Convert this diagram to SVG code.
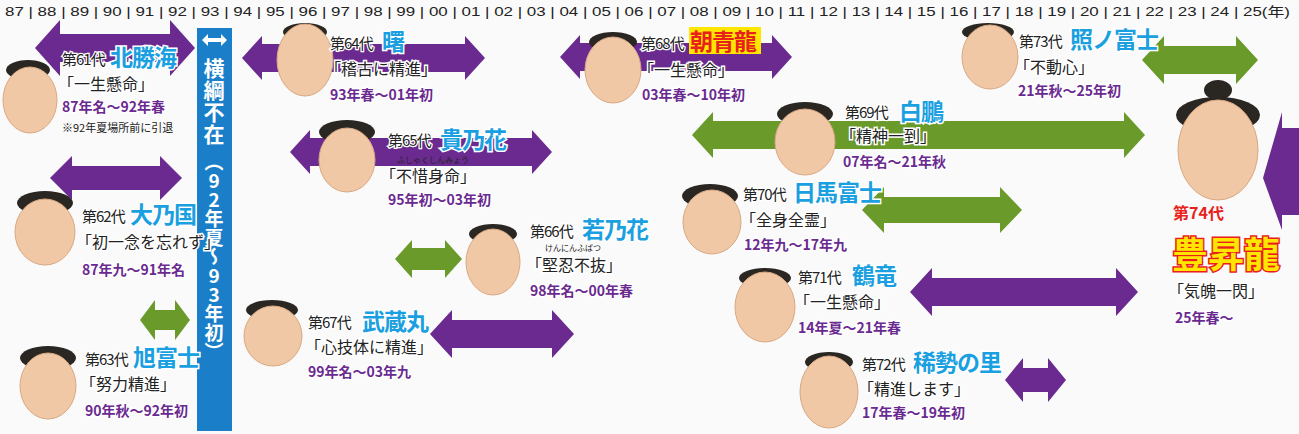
<svg xmlns="http://www.w3.org/2000/svg" width="1299" height="434" viewBox="0 0 1299 434">
<style>
text{font-family:"Noto Sans CJK JP","Liberation Sans",sans-serif;}
.ax{font-size:13px;fill:#222;font-family:"Liberation Sans","Noto Sans CJK JP",sans-serif}
.gen{font-size:15px;fill:#222;letter-spacing:-1px;stroke:#fff;stroke-width:2.5;paint-order:stroke}
.nm{font-size:23px;font-weight:bold;fill:#1aa0e0;stroke:#fff;stroke-width:3;paint-order:stroke;letter-spacing:-1px}
.q{font-size:16px;fill:#222;stroke:#fff;stroke-width:3;paint-order:stroke}
.dt{font-size:14px;font-weight:bold;fill:#6a2a90;stroke:#fff;stroke-width:2.5;paint-order:stroke}
.ru{font-size:8px;fill:#222}
.pu{fill:#6a2a90}
.gr{fill:#6a9a2a}
.skin{fill:#f0c8a6;stroke:#d9a882;stroke-width:1}
.hair{fill:#2a2622}
</style>
<rect width="1299" height="434" fill="#fafafa"/>
<text class="ax" x="5" y="16" textLength="1285" lengthAdjust="spacingAndGlyphs">87 | 88 | 89 | 90 | 91 | 92 | 93 | 94 | 95 | 96 | 97 | 98 | 99 | 00 | 01 | 02 | 03 | 04 | 05 | 06 | 07 | 08 | 09 | 10 | 11 | 12 | 13 | 14 | 15 | 16 | 17 | 18 | 19 | 20 | 21 | 22 | 23 | 24 | 25(年)</text>
<g id="connectors">
<path class="pu" d="M35,48 L60,20 L60,34 L170,34 L170,20 L195,48 L170,76 L170,62 L60,62 L60,76 Z"/>
<path class="pu" d="M50,178 L72,156 L72,166 L160,166 L160,156 L182,178 L160,200 L160,190 L72,190 L72,200 Z"/>
<path class="gr" d="M140,320 L155,300 L155,310 L175,310 L175,300 L190,320 L175,340 L175,330 L155,330 L155,340 Z"/>
<path class="pu" d="M242,58 L262,36 L262,44 L465,44 L465,36 L485,58 L465,80 L465,72 L262,72 L262,80 Z"/>
<path class="pu" d="M290,152 L310,130 L310,138 L532,138 L532,130 L552,152 L532,174 L532,166 L310,166 L310,174 Z"/>
<path class="gr" d="M395,259 L412,240 L412,248 L445,248 L445,240 L462,259 L445,278 L445,270 L412,270 L412,278 Z"/>
<path class="pu" d="M430,334 L452,310 L452,320 L552,320 L552,310 L574,334 L552,358 L552,348 L452,348 L452,358 Z"/>
<path class="pu" d="M560,57 L580,35 L580,43 L772,43 L772,35 L792,57 L772,79 L772,71 L580,71 L580,79 Z"/>
<path class="gr" d="M692,135 L713,112 L713,121 L1124,121 L1124,112 L1145,135 L1124,158 L1124,149 L713,149 L713,158 Z"/>
<path class="gr" d="M862,210 L884,187 L884,197 L1000,197 L1000,187 L1022,210 L1000,233 L1000,223 L884,223 L884,233 Z"/>
<path class="pu" d="M910,292 L932,268 L932,278 L1116,278 L1116,268 L1138,292 L1116,316 L1116,306 L932,306 L932,316 Z"/>
<path class="pu" d="M1005,380 L1023,358 L1023,368 L1048,368 L1048,358 L1066,380 L1048,402 L1048,392 L1023,392 L1023,402 Z"/>
<path class="gr" d="M1142,60 L1164,36 L1164,46 L1236,46 L1236,36 L1258,60 L1236,84 L1236,74 L1164,74 L1164,84 Z"/>
<path class="pu" d="M1263,178 L1282,112 L1282,128 L1299,128 L1299,215 L1282,215 L1282,230 Z"/>
</g>
<g id="absent">
<rect x="197" y="28" width="35" height="403" fill="#1a7fc8"/>
<path d="M202,40 L208,34 L208,38 L221,38 L221,34 L227,40 L221,46 L221,42 L208,42 L208,46 Z" fill="#fff"/>
<text x="214" y="58" font-size="21" font-weight="bold" fill="#fff" style="writing-mode:vertical-rl;text-orientation:upright" letter-spacing="1">横綱不在</text>
<text x="214" y="152" font-size="19" font-weight="bold" fill="#fff" style="writing-mode:vertical-rl;text-orientation:upright">（92年夏～93年初）</text>
</g>
<g id="n61"><ellipse class="hair" cx="28" cy="70" rx="22" ry="10"/><ellipse class="skin" cx="30" cy="100" rx="27" ry="33"/>
<text class="gen" x="62" y="65">第61代</text><text class="nm" x="110" y="66">北勝海</text>
<text class="q" x="58" y="90">「一生懸命」</text><text class="dt" x="62" y="112">87年名～92年春</text>
<text x="62" y="132" font-size="11" fill="#222">※92年夏場所前に引退</text></g>
<g id="n62"><ellipse class="hair" cx="45" cy="203" rx="28" ry="12"/><ellipse class="skin" cx="45" cy="232" rx="30" ry="33"/>
<text class="gen" x="82" y="222">第62代</text><text class="nm" x="130" y="223">大乃国</text>
<text class="q" x="76" y="248">「初一念を忘れず」</text><text class="dt" x="82" y="275">87年九～91年名</text></g>
<g id="n63"><ellipse class="hair" cx="48" cy="358" rx="28" ry="12"/><ellipse class="skin" cx="48" cy="386" rx="28" ry="33"/>
<text class="gen" x="85" y="365">第63代</text><text class="nm" x="133" y="366">旭富士</text>
<text class="q" x="80" y="390">「努力精進」</text><text class="dt" x="85" y="416">90年秋～92年初</text></g>
<g id="n64"><ellipse class="hair" cx="305" cy="32" rx="22" ry="9"/><ellipse class="skin" cx="305" cy="60" rx="28" ry="36"/>
<text class="gen" x="330" y="49">第64代</text><text class="nm" x="382" y="50">曙</text>
<text class="q" x="325" y="75">「稽古に精進」</text><text class="dt" x="330" y="100">93年春～01年初</text></g>
<g id="n65"><ellipse class="hair" cx="347" cy="132" rx="28" ry="12"/><ellipse class="skin" cx="347" cy="160" rx="28" ry="32"/>
<text class="gen" x="388" y="146">第65代</text><text class="nm" x="440" y="148" font-size="25">貴乃花</text>
<text class="ru" x="397" y="163">ふしゃくしんみょう</text>
<text class="q" x="380" y="182">「不惜身命」</text><text class="dt" x="388" y="205">95年初～03年初</text></g>
<g id="n66"><ellipse class="hair" cx="493" cy="234" rx="24" ry="10"/><ellipse class="skin" cx="493" cy="262" rx="27" ry="33"/>
<text class="gen" x="530" y="237">第66代</text><text class="nm" x="582" y="238">若乃花</text>
<text class="ru" x="545" y="251">けんにんふばつ</text>
<text class="q" x="526" y="271">「堅忍不抜」</text><text class="dt" x="530" y="296">98年名～00年春</text></g>
<g id="n67"><ellipse class="hair" cx="272" cy="310" rx="26" ry="10"/><ellipse class="skin" cx="273" cy="336" rx="29" ry="30"/>
<text class="gen" x="308" y="328">第67代</text><text class="nm" x="362" y="330">武蔵丸</text>
<text class="q" x="305" y="353">「心技体に精進」</text><text class="dt" x="308" y="377">99年名～03年九</text></g>
<g id="n68"><ellipse class="hair" cx="613" cy="42" rx="24" ry="10"/><ellipse class="skin" cx="613" cy="70" rx="28" ry="33"/>
<text class="gen" x="641" y="49">第68代</text>
<rect x="689" y="27" width="72" height="27" fill="#ffe600"/>
<text x="690" y="50" font-size="23" font-weight="bold" fill="#e8211a" letter-spacing="-1">朝青龍</text>
<text class="q" x="638" y="76">「一生懸命」</text><text class="dt" x="642" y="100">03年春～10年初</text></g>
<g id="n69"><ellipse class="hair" cx="805" cy="114" rx="28" ry="12"/><ellipse class="skin" cx="805" cy="142" rx="30" ry="33"/>
<text class="gen" x="845" y="118">第69代</text><text class="nm" x="899" y="120">白鵬</text>
<text class="q" x="840" y="142">「精神一到」</text><text class="dt" x="843" y="167">07年名～21年秋</text></g>
<g id="n70"><ellipse class="hair" cx="710" cy="196" rx="28" ry="12"/><ellipse class="skin" cx="712" cy="222" rx="29" ry="32"/>
<text class="gen" x="743" y="200">第70代</text><text class="nm" x="793" y="201">日馬富士</text>
<text class="q" x="740" y="226">「全身全霊」</text><text class="dt" x="744" y="250">12年九～17年九</text></g>
<g id="n71"><ellipse class="hair" cx="765" cy="278" rx="26" ry="10"/><ellipse class="skin" cx="765" cy="307" rx="30" ry="35"/>
<text class="gen" x="798" y="283">第71代</text><text class="nm" x="852" y="284">鶴竜</text>
<text class="q" x="794" y="308">「一生懸命」</text><text class="dt" x="798" y="333">14年夏～21年春</text></g>
<g id="n72"><ellipse class="hair" cx="829" cy="362" rx="24" ry="10"/><ellipse class="skin" cx="829" cy="392" rx="29" ry="36"/>
<text class="gen" x="862" y="370">第72代</text><text class="nm" x="913" y="371">稀勢の里</text>
<text class="q" x="858" y="395">「精進します」</text><text class="dt" x="862" y="418">17年春～19年初</text></g>
<g id="n73"><ellipse class="hair" cx="988" cy="32" rx="26" ry="9"/><ellipse class="skin" cx="990" cy="57" rx="28" ry="32"/>
<text class="gen" x="1019" y="47">第73代</text><text class="nm" x="1070" y="48">照ノ富士</text>
<text class="q" x="1014" y="73">「不動心」</text><text class="dt" x="1018" y="96">21年秋～25年初</text></g>
<g id="n74"><ellipse class="hair" cx="1218" cy="90" rx="14" ry="10"/><ellipse class="hair" cx="1218" cy="115" rx="42" ry="18"/><ellipse class="skin" cx="1218" cy="150" rx="40" ry="50"/>
<text x="1173" y="219" font-size="16" font-weight="bold" fill="#e8211a">第74代</text>
<text x="1172" y="268" font-size="36" font-weight="bold" fill="#ffe600" stroke="#e8211a" stroke-width="3" paint-order="stroke">豊昇龍</text>
<text class="q" x="1168" y="297">「気魄一閃」</text><text class="dt" x="1175" y="323">25年春～</text></g>
</svg>
